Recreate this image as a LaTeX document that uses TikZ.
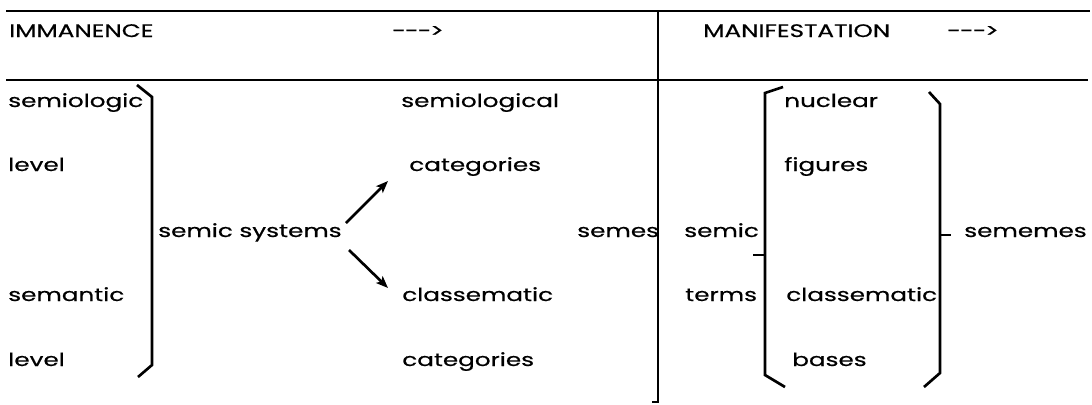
\documentclass[tikz,border=0pt]{standalone}
\usepackage{fontspec}
\setmainfont{Poppins}[FakeStretch=1.36,FakeBold=0.6]
\usetikzlibrary{arrows.meta}
\tikzset{
  txt/.style={anchor=base west, inner sep=0pt, font=\fontsize{13.6}{16}\selectfont},
  rule/.style={line width=1.9pt, black},
  brk/.style={line width=2pt, black, line join=miter},
  arr/.style={line width=2pt, -{Stealth[length=9pt,width=7pt,inset=2pt]}}
}
\newcommand{\dasharrow}{{-}\kern-0.6pt{-}\kern-0.6pt{-}\kern-0.8pt>}
\begin{document}
\begin{tikzpicture}[x=0.75pt,y=-0.75pt]
\useasboundingbox (0,0) rectangle (1092,404);
% rules
\coordinate (tl) at (6,11); \coordinate (tr) at (1090,11);
\coordinate (ml) at (6,80); \coordinate (mr) at (1088,80);
\coordinate (st) at (658,11); \coordinate (sb) at (658,402); \coordinate (sk) at (652,402);
\draw[rule] (tl) -- (tr);
\draw[rule] (ml) -- (mr);
\draw[rule] (st) -- (sb) -- (sk);
% header
\node[txt] (imm) at (9,37) {IMMANENCE};
\node[txt] (ar1) at (392,37) {\dasharrow};
\node[txt] (man) at (703,37) {MANIFESTATION};
\node[txt] (ar2) at (947,37) {\dasharrow};
% left column
\node[txt] (s1) at (8,107) {semiologic};
\node[txt] (l1) at (8,171) {level};
\node[txt] (s2) at (8,301) {semantic};
\node[txt] (l2) at (8,366) {level};
\node[txt] (ss) at (158,237) {semic systems};
% middle
\node[txt] (sg) at (401,107) {semiological};
\node[txt] (c1) at (409,171) {categories};
\node[txt] (cl) at (402,301) {classematic};
\node[txt] (c2) at (402,366) {categories};
\node[txt] (se) at (577,237) {semes};
% right
\node[txt] (sc) at (684,237) {semic};
\node[txt] (te) at (685,301) {terms};
\node[txt] (nu) at (784,107) {nuclear};
\node[txt] (fi) at (784,171) {figures};
\node[txt] (cl2) at (786,301) {classematic};
\node[txt] (ba) at (792,366) {bases};
\node[txt] (sm) at (964,237) {sememes};
% brackets
\draw[brk] (137,85) -- (152,97) -- (152,365) -- (138,377);
\draw[brk] (783,87) -- (765,93) -- (765,375) -- (785,387);
\draw[brk] (753,255) -- (765,255);
\draw[brk] (929,92) -- (940,104) -- (940,373) -- (924,387);
\draw[brk] (940,235) -- (951,235);
% arrows
\coordinate (au1) at (346,223); \coordinate (au2) at (388,181);
\coordinate (ad1) at (349,250); \coordinate (ad2) at (388,288);
\draw[arr] (au1) -- (au2);
\draw[arr] (ad1) -- (ad2);
\end{tikzpicture}
\end{document}
